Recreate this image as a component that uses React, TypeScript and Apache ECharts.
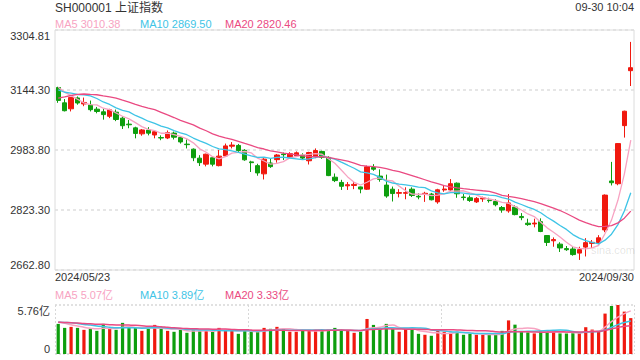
import React, { useEffect, useRef } from "react";
import * as echarts from "echarts";

const TITLE = "SH000001 上证指数";
const TIME_LABEL = "09-30 10:04";
const WATERMARK = "sina.com";

const DATES = [
  "2024/05/23", "2024/05/24", "2024/05/27", "2024/05/28", "2024/05/29", "2024/05/30", "2024/05/31",
  "2024/06/03", "2024/06/04", "2024/06/05", "2024/06/06", "2024/06/07", "2024/06/11", "2024/06/12",
  "2024/06/13", "2024/06/14", "2024/06/17", "2024/06/18", "2024/06/19", "2024/06/20", "2024/06/21",
  "2024/06/24", "2024/06/25", "2024/06/26", "2024/06/27", "2024/06/28",
  "2024/07/01", "2024/07/02", "2024/07/03", "2024/07/04", "2024/07/05", "2024/07/08", "2024/07/09",
  "2024/07/10", "2024/07/11", "2024/07/12", "2024/07/15", "2024/07/16", "2024/07/17", "2024/07/18",
  "2024/07/19", "2024/07/22", "2024/07/23", "2024/07/24", "2024/07/25", "2024/07/26", "2024/07/29",
  "2024/07/30", "2024/07/31",
  "2024/08/01", "2024/08/02", "2024/08/05", "2024/08/06", "2024/08/07", "2024/08/08", "2024/08/09",
  "2024/08/12", "2024/08/13", "2024/08/14", "2024/08/15", "2024/08/16", "2024/08/19", "2024/08/20",
  "2024/08/21", "2024/08/22", "2024/08/23", "2024/08/26", "2024/08/27", "2024/08/28", "2024/08/29",
  "2024/08/30",
  "2024/09/02", "2024/09/03", "2024/09/04", "2024/09/05", "2024/09/06", "2024/09/09", "2024/09/10",
  "2024/09/11", "2024/09/12", "2024/09/13", "2024/09/18", "2024/09/19", "2024/09/20", "2024/09/23",
  "2024/09/24", "2024/09/25", "2024/09/26", "2024/09/27", "2024/09/30",
];

const OPEN = [
  3151, 3110, 3094, 3123, 3107, 3104, 3093, 3086, 3074, 3085,
  3069, 3053, 3043, 3027, 3037, 3024, 3017, 3016, 3029, 3017,
  2999.5, 2986, 2962, 2946, 2963, 2942, 2968, 2994, 2996, 2983,
  2952, 2942, 2920, 2949, 2958, 2973, 2965, 2968, 2970, 2955,
  2967, 2980, 2964, 2911, 2897, 2888, 2889, 2885, 2879, 2937,
  2914, 2890, 2879, 2868, 2868, 2879, 2860, 2866, 2866, 2845,
  2877, 2877, 2895, 2858, 2856, 2845, 2853, 2850, 2846, 2830,
  2821, 2831, 2806, 2788, 2786, 2792, 2755, 2741, 2732, 2720,
  2719, 2708, 2724, 2734, 2736, 2770, 2901, 2893.57, 3049, 3196,
];
const CLOSE = [
  3116.39, 3088.87, 3124.04, 3109.57, 3111.02, 3091.68, 3086.81, 3078.49, 3091.2, 3065.4,
  3048.79, 3051.28, 3028.05, 3037.47, 3028.92, 3032.63, 3015.89, 3030.25, 3018.05, 3005.44,
  2998.14, 2963.1, 2950.0, 2972.53, 2945.85, 2967.4, 2994.73, 2997.01, 2982.38, 2957.57,
  2949.94, 2922.45, 2959.37, 2939.36, 2970.39, 2971.3, 2974.01, 2976.3, 2962.17, 2977.13,
  2982.31, 2964.22, 2915.37, 2901.95, 2886.74, 2890.9, 2891.85, 2879.3, 2938.75, 2932.39,
  2905.34, 2860.7, 2867.28, 2869.9, 2869.83, 2862.19, 2858.2, 2867.95, 2850.65, 2877.36,
  2879.43, 2893.67, 2866.66, 2856.58, 2848.77, 2854.37, 2855.52, 2848.32, 2837.43, 2823.11,
  2842.21, 2811.04, 2802.98, 2784.28, 2788.31, 2765.81, 2736.49, 2744.19, 2721.8, 2717.12,
  2704.09, 2717.28, 2736.02, 2736.81, 2748.92, 2863.13, 2896.31, 3000.95, 3087.53, 3203.98,
];
const LOW = [
  3110, 3087, 3087, 3105, 3101, 3087, 3082, 3065, 3069, 3061,
  3040, 3042, 3015, 3022, 3023, 3015, 3010, 3013, 3012, 3001,
  2988, 2954, 2941, 2940, 2940, 2940, 2966, 2988, 2977, 2955,
  2925, 2915, 2905, 2936, 2950, 2957, 2962, 2965, 2958, 2945,
  2962, 2960, 2914, 2898, 2877, 2877, 2879, 2868, 2877, 2928,
  2899, 2856, 2846, 2857, 2852, 2858, 2852, 2845, 2849, 2840,
  2872, 2874, 2856, 2849, 2845, 2842, 2845, 2843, 2833, 2816,
  2816, 2809, 2796, 2781, 2777, 2764, 2727, 2725, 2711, 2714,
  2701, 2689.7, 2699, 2722, 2732, 2764, 2889, 2889.47, 3017, 3155,
];
const HIGH = [
  3153, 3120, 3125, 3127, 3124, 3116, 3099, 3095, 3094, 3092,
  3074, 3064, 3046, 3040, 3045, 3036, 3023, 3036, 3033, 3020,
  3012, 2988, 2970, 2974, 2966, 2984, 3001, 3005, 3000, 2986,
  2955, 2947, 2962, 2962, 2973, 2977, 2978, 2980, 2975, 2979,
  2988, 2982, 2967, 2921, 2904, 2898, 2899, 2886, 2942, 2946,
  2932, 2918, 2886, 2879, 2884, 2884, 2868, 2872, 2869, 2880,
  2890, 2906, 2897, 2866, 2862, 2858, 2859, 2856, 2852, 2834,
  2866, 2836, 2815, 2800, 2800, 2801, 2756, 2750, 2737, 2727,
  2726, 2725, 2748, 2743, 2756, 2865, 2952, 3002, 3089, 3273,
];
// volume in 亿
const VOLUME = [
  3.54, 3.07, 3.19, 3.07, 2.84, 2.96, 2.72, 3.54, 2.96, 2.84,
  3.66, 3.07, 3.07, 2.72, 2.96, 3.42, 2.96, 2.72, 2.61, 2.84,
  2.49, 2.84, 2.72, 2.72, 2.61, 3.07, 2.84, 2.72, 2.37, 2.84,
  2.61, 2.61, 3.07, 2.96, 3.19, 2.96, 2.61, 2.61, 2.72, 2.84,
  2.72, 2.72, 2.84, 3.07, 2.84, 2.72, 2.49, 2.61, 4.12, 3.42,
  3.07, 3.54, 2.96, 2.61, 2.96, 2.96, 2.37, 2.26, 2.14, 2.72,
  2.61, 2.49, 2.61, 2.26, 2.37, 2.26, 2.26, 2.26, 2.26, 2.72,
  3.95, 3.45, 2.66, 2.54, 2.42, 2.66, 2.66, 2.66, 2.42, 2.41,
  2.45, 2.45, 3.15, 2.87, 2.59, 4.75, 5.64, 5.76, 4.98, 4.22,
];
// closes / volumes of the 19 sessions before the first shown day (for the moving averages)
const PRE_CLOSES = [
  3021.98, 3044.82, 3052.9, 3088.64, 3113.04, 3104.82, 3140.72, 3147.74, 3128.48, 3154.32,
  3154.55, 3148.02, 3145.77, 3119.9, 3122.4, 3154.03, 3171.15, 3157.97, 3158.54,
];
const PRE_VOLUMES = [
  3.5, 3.6, 3.9, 4.0, 3.6, 3.8, 3.7, 3.9, 3.6, 3.5,
  3.4, 3.6, 3.8, 4.0, 3.7, 3.9, 4.1, 3.8, 3.6,
];

const Y_TICKS = [2662.8, 2823.3, 2983.8, 3144.3, 3304.81];
const VOL_TICKS = [0, 5.76];
const MA_PERIODS = [5, 10, 20];

const UP = "#f0190f";
const DOWN = "#0e9e0e";
const MA_COLORS = ["#f7a3c2", "#3ec4e6", "#ea4a82"];
const FONT = "'Liberation Sans', Arial, 'Noto Sans CJK SC', sans-serif";

function movingAverage(values: number[], pre: number[], n: number): number[] {
  const all = pre.concat(values);
  return values.map((_, i) => {
    const end = pre.length + i;
    let s = 0;
    for (let k = end - n + 1; k <= end; k++) s += all[k];
    return Math.round((s / n) * 1000) / 1000;
  });
}

export default function App() {
  const ref = useRef<HTMLDivElement>(null);

  useEffect(() => {
    if (!ref.current) return;
    const chart = echarts.init(ref.current, undefined, { renderer: "svg" });

    const priceMA = MA_PERIODS.map((n) => movingAverage(CLOSE, PRE_CLOSES, n));
    const volMA = MA_PERIODS.map((n) => movingAverage(VOLUME, PRE_VOLUMES, n));
    const last = CLOSE.length - 1;

    const candleData = OPEN.map((o, i) => [o, CLOSE[i], LOW[i], HIGH[i]]);
    const volData = VOLUME.map((v, i) => ({
      value: v,
      itemStyle: { color: CLOSE[i] >= OPEN[i] ? UP : DOWN },
    }));

    const maLabelX = [55, 140, 225];
    const graphic: any[] = [
      {
        type: "text", x: 55, y: 8,
        style: { text: TITLE, fill: "#333", fontSize: 12, fontFamily: FONT, verticalAlign: "middle" },
      },
      {
        type: "text", x: 634, y: 7,
        style: { text: TIME_LABEL, fill: "#333", fontSize: 11, fontFamily: FONT, align: "right", verticalAlign: "middle" },
      },
      {
        type: "text", x: 55, y: 277,
        style: { text: DATES[0], fill: "#333", fontSize: 11, fontFamily: FONT, verticalAlign: "middle" },
      },
      {
        type: "text", x: 634, y: 277,
        style: { text: DATES[last], fill: "#333", fontSize: 11, fontFamily: FONT, align: "right", verticalAlign: "middle" },
      },
      {
        type: "text", x: 591, y: 250, z: 0,
        style: { text: WATERMARK, fill: "rgba(0,0,0,0.12)", fontSize: 11, fontFamily: FONT, verticalAlign: "middle" },
      },
    ];
    MA_PERIODS.forEach((n, k) => {
      graphic.push({
        type: "text", x: maLabelX[k], y: 24,
        style: {
          text: `MA${n} ${priceMA[k][last].toFixed(2)}`,
          fill: MA_COLORS[k], fontSize: 11, fontFamily: FONT, verticalAlign: "middle",
        },
      });
      graphic.push({
        type: "text", x: maLabelX[k], y: 295,
        style: {
          text: `MA${n} ${volMA[k][last].toFixed(2)}亿`,
          fill: MA_COLORS[k], fontSize: 11, fontFamily: FONT, verticalAlign: "middle",
        },
      });
    });

    const lineSeries = (data: number[], k: number, axis: number) => ({
      type: "line",
      xAxisIndex: axis,
      yAxisIndex: axis,
      data,
      showSymbol: false,
      symbol: "none",
      smooth: axis === 1,
      lineStyle: { width: axis === 1 ? 1.5 : 1.3, color: MA_COLORS[k] },
      itemStyle: { color: MA_COLORS[k] },
      z: 3,
    });

    chart.setOption({
      animation: false,
      backgroundColor: "#fff",
      textStyle: { fontFamily: FONT },
      grid: [
        { left: 55, right: 6, top: 30, height: 240, show: true, borderColor: "#dcdcdc", borderWidth: 1 },
        { left: 55, right: 6, top: 305, height: 49, show: false },
      ],
      xAxis: [
        {
          type: "category", gridIndex: 0, data: DATES, boundaryGap: true,
          axisLine: { show: false }, axisTick: { show: false }, axisLabel: { show: false },
          splitLine: { show: false },
        },
        {
          type: "category", gridIndex: 1, data: DATES, boundaryGap: true,
          axisLine: { show: false }, axisTick: { show: false }, axisLabel: { show: false },
          splitLine: {
            show: true,
            interval: (idx: number) => idx % 30 === 0,
            lineStyle: { color: "#d8d8d8", type: [2, 2], width: 1 },
          },
        },
      ],
      yAxis: [
        {
          type: "value", gridIndex: 0, scale: true,
          min: Y_TICKS[0], max: Y_TICKS[Y_TICKS.length - 1],
          axisLine: { show: false },
          axisTick: { show: false, customValues: Y_TICKS },
          axisLabel: {
            customValues: Y_TICKS,
            formatter: (v: number) => v.toFixed(2),
            color: "#333", fontSize: 11, margin: 5, fontFamily: FONT,
            verticalAlignMinLabel: "bottom", verticalAlignMaxLabel: "top",
          },
          splitLine: { show: true, lineStyle: { color: "#dedede", type: [3, 3], width: 1.5 } },
        },
        {
          type: "value", gridIndex: 1,
          min: VOL_TICKS[0], max: VOL_TICKS[VOL_TICKS.length - 1],
          axisLine: { show: false },
          axisTick: { show: false, customValues: VOL_TICKS },
          axisLabel: {
            customValues: VOL_TICKS,
            formatter: (v: number) => (v === 0 ? "0" : v.toFixed(2) + "亿"),
            color: "#333", fontSize: 11, margin: 5, fontFamily: FONT,
            verticalAlignMinLabel: "bottom", verticalAlignMaxLabel: "top",
          },
          splitLine: { show: true, lineStyle: { color: "#d8d8d8", type: [2, 2], width: 1.5 } },
        },
      ],
      series: [
        {
          type: "candlestick",
          xAxisIndex: 0, yAxisIndex: 0,
          data: candleData,
          barWidth: "76%",
          itemStyle: { color: UP, color0: DOWN, borderColor: UP, borderColor0: DOWN, borderWidth: 1 },
          z: 2,
        },
        ...MA_PERIODS.map((_, k) => lineSeries(priceMA[k], k, 0)),
        {
          type: "bar",
          xAxisIndex: 1, yAxisIndex: 1,
          data: volData,
          barWidth: "50%",
          z: 2,
        },
        ...MA_PERIODS.map((_, k) => lineSeries(volMA[k], k, 1)),
      ],
      graphic,
    });

    return () => chart.dispose();
  }, []);

  return (
    <div
      ref={ref}
      style={{ position: "fixed", left: 0, top: 0, width: 640, height: 360 }}
    />
  );
}
